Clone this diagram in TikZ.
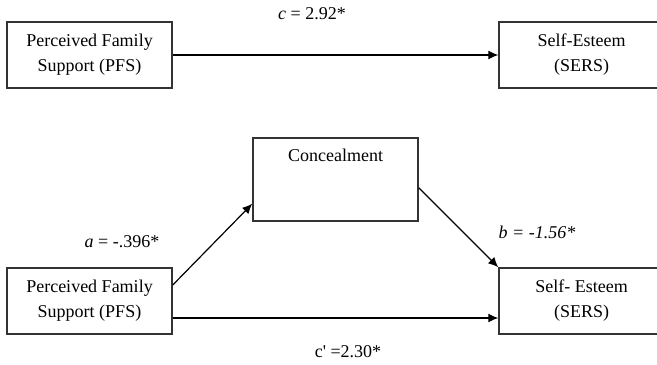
\documentclass[tikz,border=0pt]{standalone}
\usepackage{fontspec}
\setmainfont{Liberation Serif}
\usetikzlibrary{arrows.meta,positioning}
\tikzset{
    % boxes for the variables
    varbox/.style={
           rectangle,
           draw=black!80, line width=0.75pt,
           minimum width=82.5pt,
           minimum height=33pt,
           inner sep=0pt,
           align=center,
           font=\fontsize{9}{12.5}\selectfont},
    % arrows between the boxes
    pathar/.style={
           -{Latex[length=5pt,width=4.5pt]},
           line width=0.6pt},
    % path coefficients
    coef/.style={
           inner sep=0pt,
           font=\fontsize{9}{11}\selectfont}
}

\begin{document}
\begin{tikzpicture}[x=0.5pt,y=-0.5pt]
\useasboundingbox (0,0) rectangle (657,364);

% Total effect
\node[varbox] (pfsA) at (89.5,55) {Perceived Family\\Support (PFS)};
\node[varbox] (seA) at (581.5,55) {Self-Esteem\\(SERS)};

% Mediation model
\node[varbox, anchor=north, text height=12pt, text depth=29.5pt, minimum height=41.5pt] (conc) at (335.5,137) {Concealment};
\node[varbox] (pfsB) at (89.5,301) {Perceived Family\\Support (PFS)};
\node[varbox] (seB) at (581.5,301) {Self- Esteem\\(SERS)};

% Now connect the boxes
\draw[pathar] (pfsA.east) -- (seA.west);
\draw[pathar] ([yshift=8pt]pfsB.east) -- ([yshift=-12.25pt]conc.west);
\draw[pathar] ([yshift=-4.25pt]conc.east) -- (seB.north west);
\draw[pathar] ([yshift=-8.5pt]pfsB.east) -- ([yshift=-8.5pt]seB.west);

% Coefficients
\node[coef] (cTot) at (312,14) {\textit{c} = 2.92*};
\node[coef] (aCoef) at (122,242) {\textit{a} = -.396*};
\node[coef] (bCoef) at (537,232) {\textit{b = -1.56*}};
\node[coef] (cDir) at (348,352) {c\textquotesingle{} =2.30*};
\end{tikzpicture}
\end{document}
